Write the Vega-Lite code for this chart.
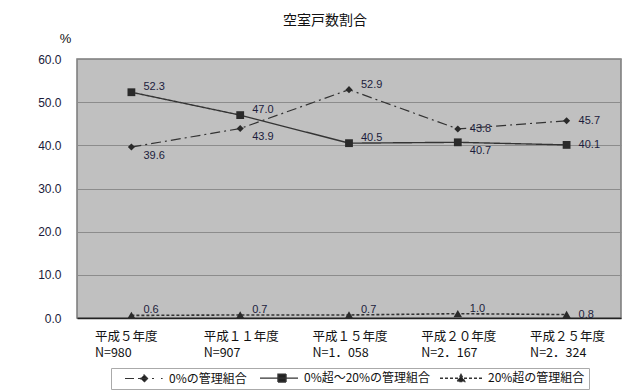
{
  "$schema": "https://vega.github.io/schema/vega-lite/v6.json",
  "autosize": {"type": "none"},
  "width": 544,
  "height": 259,
  "padding": {"left": 77, "top": 59, "right": 14, "bottom": 73},
  "background": "white",
  "title": {"text": "空室戸数割合", "font": "Noto Sans CJK JP", "fontSize": 14, "fontWeight": "normal", "color": "#111", "anchor": "middle", "dx": -24, "offset": 4},
  "config": {
    "view": {"fill": "#c0c0c0", "stroke": "#7a7a7a", "strokeWidth": 1.5}
  },
  "resolve": {"legend": {"color": "independent", "shape": "independent", "size": "independent", "strokeDash": "independent", "strokeWidth": "independent"}},
  "data": {"values": [
    {"period": "平成５年度|N=980", "series": "0%の管理組合", "value": 39.6},
    {"period": "平成１１年度|N=907", "series": "0%の管理組合", "value": 43.9},
    {"period": "平成１５年度|N=1．058", "series": "0%の管理組合", "value": 52.9},
    {"period": "平成２０年度|N=2．167", "series": "0%の管理組合", "value": 43.8},
    {"period": "平成２５年度|N=2．324", "series": "0%の管理組合", "value": 45.7},
    {"period": "平成５年度|N=980", "series": "0%超～20%の管理組合", "value": 52.3},
    {"period": "平成１１年度|N=907", "series": "0%超～20%の管理組合", "value": 47.0},
    {"period": "平成１５年度|N=1．058", "series": "0%超～20%の管理組合", "value": 40.5},
    {"period": "平成２０年度|N=2．167", "series": "0%超～20%の管理組合", "value": 40.7},
    {"period": "平成２５年度|N=2．324", "series": "0%超～20%の管理組合", "value": 40.1},
    {"period": "平成５年度|N=980", "series": "20%超の管理組合", "value": 0.6},
    {"period": "平成１１年度|N=907", "series": "20%超の管理組合", "value": 0.7},
    {"period": "平成１５年度|N=1．058", "series": "20%超の管理組合", "value": 0.7},
    {"period": "平成２０年度|N=2．167", "series": "20%超の管理組合", "value": 1.0},
    {"period": "平成２５年度|N=2．324", "series": "20%超の管理組合", "value": 0.8}
  ]},
  "encoding": {
    "x": {"field": "period", "type": "nominal", "sort": null,
      "scale": {"type": "point", "padding": 0.5},
      "axis": {"title": null, "labelExpr": "split(datum.label, '|')", "labelAlign": "left", "labelOffset": -37, "labelBaseline": "top", "labelPadding": 12, "labelLineHeight": 16, "labelFont": "Noto Sans CJK JP", "labelFontSize": 12.5, "labelColor": "#111", "ticks": false, "domainColor": "#222", "domainWidth": 1.5, "labelOverlap": false, "labelBound": false, "labelAngle": 0, "grid": false}},
    "y": {"field": "value", "type": "quantitative",
      "scale": {"domain": [0, 60], "nice": false, "zero": true},
      "axis": {"title": "%", "titleAngle": 0, "titleX": -12, "titleY": -21, "titleAlign": "center", "titleBaseline": "middle", "titleFont": "Liberation Sans", "titleFontSize": 13, "titleFontWeight": "normal", "titleColor": "#111", "values": [0, 10, 20, 30, 40, 50, 60], "format": ".1f", "labelFont": "Liberation Sans", "labelFontSize": 12, "labelColor": "#1a1a3a", "ticks": false, "labelPadding": 16, "domain": false, "grid": true, "gridColor": "#8c8c8c", "gridWidth": 1}}
  },
  "layer": [
    {
      "mark": {"type": "line"},
      "encoding": {
        "color": {"field": "series", "type": "nominal", "scale": {"domain": ["0%の管理組合", "0%超～20%の管理組合", "20%超の管理組合"], "range": ["#333333", "#343434", "#353535"]},
          "legend": {"title": null, "orient": "none", "legendX": 34, "legendY": 309, "direction": "horizontal", "strokeColor": "#aaaaaa", "fillColor": "white", "padding": 4, "labelFont": "Noto Sans CJK JP", "labelFontSize": 12, "labelColor": "#111", "symbolSize": 64, "labelOffset": 42, "columnPadding": 3, "symbolStrokeWidth": 1.2, "symbolType": "circle",
            "encode": {"symbols": {"update": {
              "shape": {"signal": "datum.value === '0%の管理組合' ? 'M1,0H3.25M4.25,0H8.25M10,0H10.4M5.75,-0.9L6.65,0L5.75,0.9L4.85,0Z' : (datum.value === '0%超～20%の管理組合' ? 'M1,0H10.5M5.5,-1H7.5V1H5.5Z' : 'M0,0H0.75M1.25,0H2M2.5,0H3.25M3.75,0H4.5M6,0H6.75M7.25,0H8M8.5,0H9.25M9.75,0H10.5M5.25,-0.9L6.15,0.8L4.35,0.8Z')"},
              "fill": {"value": "#222"}, "stroke": {"value": "#222"}, "strokeWidth": {"value": 1.2}, "strokeDash": {"value": [1, 0]}, "opacity": {"value": 1}
            }}}}},
        "strokeDash": {"field": "series", "type": "nominal", "scale": {"domain": ["0%の管理組合", "0%超～20%の管理組合", "20%超の管理組合"], "range": [[10, 4, 2, 4], [1, 0], [3, 2]]}, "legend": null},
        "strokeWidth": {"field": "series", "type": "nominal", "scale": {"domain": ["0%の管理組合", "0%超～20%の管理組合", "20%超の管理組合"], "range": [1.2, 1.6, 1]}, "legend": null}
      }
    },
    {
      "mark": {"type": "point", "filled": true, "opacity": 1, "color": "#2a2a2a"},
      "encoding": {
        "shape": {"field": "series", "type": "nominal", "scale": {"domain": ["0%の管理組合", "0%超～20%の管理組合", "20%超の管理組合"], "range": ["diamond", "square", "triangle-up"]}, "legend": null},
        "size": {"field": "series", "type": "nominal", "scale": {"domain": ["0%の管理組合", "0%超～20%の管理組合", "20%超の管理組合"], "range": [50, 72, 50]}, "legend": null}
      }
    },
    {
      "transform": [{"filter": "(datum.series === '0%の管理組合' && (indexof(datum.period, '平成５') === 0 || indexof(datum.period, '平成１１') === 0)) || (datum.series === '0%超～20%の管理組合' && indexof(datum.period, '平成２０') === 0)"}],
      "mark": {"type": "text", "align": "left", "baseline": "middle", "dx": 12, "dy": 9, "font": "Liberation Sans", "fontSize": 11, "color": "#1c1c3c"},
      "encoding": {"text": {"field": "value", "type": "quantitative", "format": ".1f"}}
    },
    {
      "transform": [{"filter": "(datum.series === '0%超～20%の管理組合' && indexof(datum.period, '平成２') !== 0) || (datum.series === '0%の管理組合' && indexof(datum.period, '平成１５') === 0) || (datum.series === '20%超の管理組合' && indexof(datum.period, '平成２５') !== 0)"}],
      "mark": {"type": "text", "align": "left", "baseline": "middle", "dx": 12, "dy": -5, "font": "Liberation Sans", "fontSize": 11, "color": "#1c1c3c"},
      "encoding": {"text": {"field": "value", "type": "quantitative", "format": ".1f"}}
    },
    {
      "transform": [{"filter": "(datum.series === '0%の管理組合' && (indexof(datum.period, '平成２０') === 0 || indexof(datum.period, '平成２５') === 0)) || (datum.series !== '0%の管理組合' && indexof(datum.period, '平成２５') === 0)"}],
      "mark": {"type": "text", "align": "left", "baseline": "middle", "dx": 12, "dy": 0, "font": "Liberation Sans", "fontSize": 11, "color": "#1c1c3c"},
      "encoding": {"text": {"field": "value", "type": "quantitative", "format": ".1f"}}
    }
  ]
}
